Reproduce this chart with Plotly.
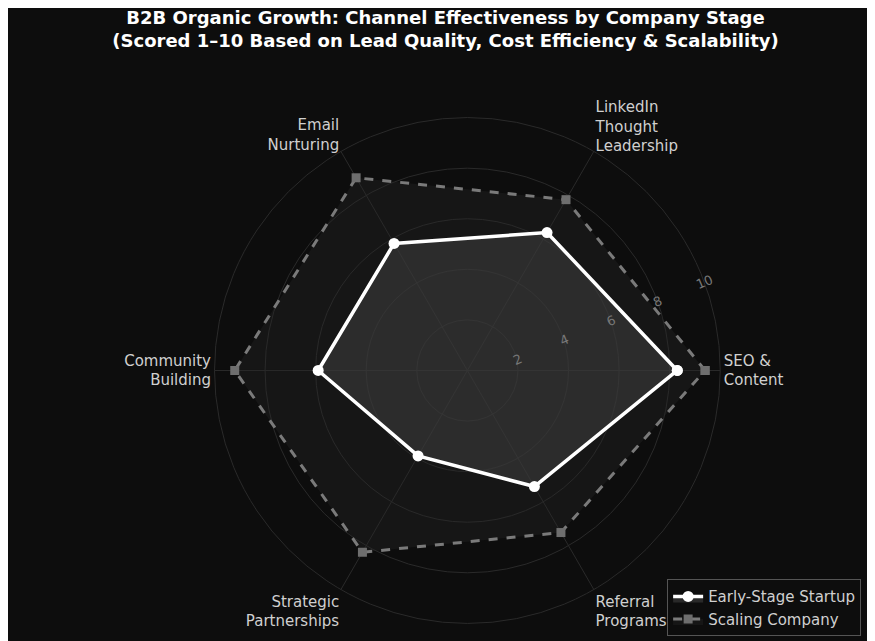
import plotly.graph_objects as go

# Channels and scores (1-10)
channels = ['SEO &<br>Content', 'LinkedIn<br>Thought<br>Leadership', 'Email<br>Nurturing',
            'Community<br>Building', 'Strategic<br>Partnerships', 'Referral<br>Programs']
early_stage = [8.3, 6.3, 5.8, 5.9, 3.9, 5.3]
scaling = [9.4, 7.8, 8.8, 9.2, 8.3, 7.4]
radial_ticks = [2, 4, 6, 8, 10]

theta = channels + channels[:1]

fig = go.Figure()
fig.add_trace(go.Scatterpolar(
    r=scaling + scaling[:1], theta=theta, name='Scaling Company',
    mode='lines+markers', fill='toself', fillcolor='rgba(40,40,40,0.35)',
    line=dict(color='#7a7a7a', width=3, dash='dash'),
    marker=dict(symbol='square', size=9, color='#6e6e6e'),
))
fig.add_trace(go.Scatterpolar(
    r=early_stage + early_stage[:1], theta=theta, name='Early-Stage Startup',
    mode='lines+markers', fill='toself', fillcolor='rgba(60,60,60,0.6)',
    line=dict(color='white', width=3.5),
    marker=dict(symbol='circle', size=11, color='white'),
))

fig.update_layout(
    width=875, height=641,
    paper_bgcolor='#0d0d0d', plot_bgcolor='#0d0d0d',
    margin=dict(l=0, r=0, t=0, b=0),
    font=dict(family='DejaVu Sans', color='#d0d0d0'),
    title=dict(text='<b>B2B Organic Growth: Channel Effectiveness by Company Stage<br>'
                    '(Scored 1–10 Based on Lead Quality, Cost Efficiency & Scalability)</b>',
               x=0.5, xanchor='center', y=0.975, yanchor='top',
               font=dict(size=18, color='white')),
    polar=dict(
        bgcolor='#0d0d0d',
        domain=dict(x=[0.236, 0.814], y=[0.04, 0.829]),
        radialaxis=dict(range=[0, 10], tickvals=radial_ticks, angle=22.5, tickangle=0,
                        showline=False, gridcolor='#2a2a2a', ticks='',
                        tickfont=dict(size=13, color='#777777')),
        angularaxis=dict(direction='counterclockwise', rotation=0, gridcolor='#2a2a2a',
                         linecolor='#2a2a2a', ticks='',
                         tickfont=dict(size=15, color='#d0d0d0')),
    ),
    legend=dict(x=0.975, y=0.02, xanchor='right', yanchor='bottom',
                traceorder='reversed', bgcolor='#0d0d0d', bordercolor='#555555', borderwidth=1,
                font=dict(size=15, color='#d0d0d0')),
)

fig.write_html('out.html')
